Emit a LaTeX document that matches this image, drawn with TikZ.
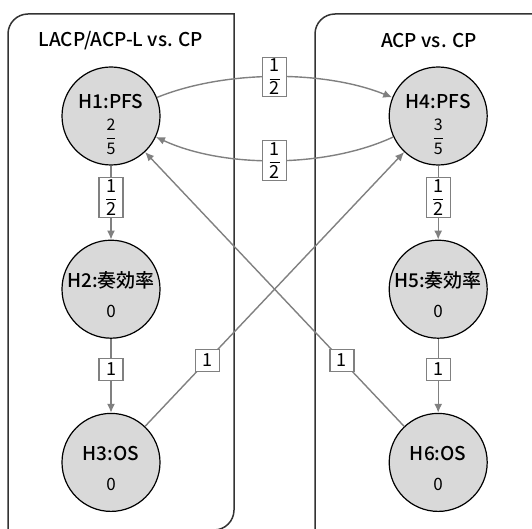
\documentclass[tikz,border=0pt]{standalone}
\usepackage{fontspec}
\setmainfont{Noto Sans CJK JP}
\newfontfamily\medfont{Noto Sans CJK JP Medium}
\usetikzlibrary{arrows.meta, positioning}
\definecolor{edgegray}{HTML}{808080}
\definecolor{nodegray}{HTML}{D9D9D9}
\definecolor{framegray}{HTML}{333333}
\newcommand{\frc}[2]{$\displaystyle{\hbox{#1}\over\hbox{#2}}$}

\begin{document}
\begin{tikzpicture}[x=1pt, y=1pt,
hyp/.style={circle, draw=black, line width=1.2pt, fill=nodegray, minimum size=98pt,
inner sep=0pt, text height=0pt, font=\medfont\fontsize{19}{21}\selectfont},
hyp-frac/.style={hyp, text depth=14pt, label={[val, font=\fontsize{16}{18}\selectfont, yshift=-21pt]center:\frc{#1}{5}}},
hyp-zero/.style={hyp, text depth=4pt, label={[val, yshift=-22pt]center:0}},
val/.style={inner sep=0pt, font=\fontsize{17}{19}\selectfont},
wt/.style={rectangle, draw=edgegray, line width=1.2pt, fill=white, inner sep=1.5pt,
minimum width=24pt, minimum height=22pt, font=\fontsize{18}{20}\selectfont},
line/.style={draw=edgegray, line width=1.4pt, -{Latex[length=9pt, width=8pt]}},
frame/.style={draw=framegray, line width=1.5pt},
title/.style={font=\medfont\fontsize{19}{21}\selectfont}
]
\useasboundingbox (0,0) rectangle (532,528);

% groups
\draw[frame] (8,-2) -- (8,494) arc[start angle=180, end angle=90, radius=20]
  -- (234,514) -- (234,18) arc[start angle=0, end angle=-90, radius=20] -- cycle;
\draw[frame] (315,-10) -- (315,494) arc[start angle=180, end angle=90, radius=20] -- (560,514);
\node [title] (t-lacp) at (121,487) {LACP/ACP-L vs. CP};
\node [title] (t-acp) at (429,487) {ACP vs. CP};

% hypotheses
\node [hyp-frac=2] (h1) at (111,412) {H1:PFS};
\node [hyp-zero, below=74pt of h1] (h2) {H2:奏効率};
\node [hyp-zero, below=74pt of h2] (h3) {H3:OS};

\node [hyp-frac=3, right=228pt of h1] (h4) {H4:PFS};
\node [hyp-zero, below=74pt of h4] (h5) {H5:奏効率};
\node [hyp-zero, below=74pt of h5] (h6) {H6:OS};

% weights
\path [line] (h1) to[out=22, in=158, looseness=0.8] node[wt] {\frc{1}{2}} (h4);
\path [line] (h4) to[out=205, in=-25, looseness=0.8] node[wt] {\frc{1}{2}} (h1);
\path [line] (h1) -- node[wt, pos=0.43] {\frc{1}{2}} (h2);
\path [line] (h2) -- node[wt, pos=0.41] {1} (h3);
\path [line] (h4) -- node[wt, pos=0.43] {\frc{1}{2}} (h5);
\path [line] (h5) -- node[wt, pos=0.41] {1} (h6);
\path [line] (h3) -- node[wt, pos=0.24] {1} (h4);
\path [line] (h6) -- node[wt, pos=0.24] {1} (h1);

\end{tikzpicture}
\end{document}
